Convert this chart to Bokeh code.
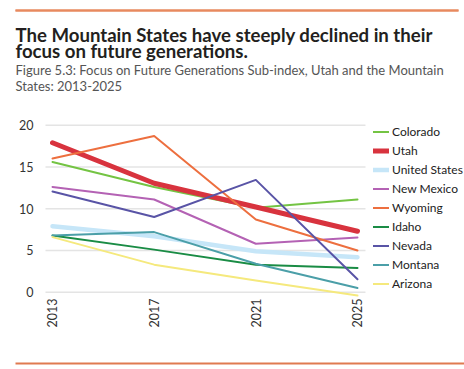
import math
from bokeh.plotting import figure
from bokeh.models import Range1d, Legend, LegendItem, FixedTicker, Label, BoxAnnotation
from bokeh.embed import file_html
from bokeh.resources import INLINE

# ---- data ----
years = [2013, 2017, 2021, 2025]
year_ticks = [2013, 2017, 2021, 2025]
y_ticks = [0, 5, 10, 15, 20]

colorado = [15.6, 12.6, 10.1, 11.1]
utah = [17.9, 13.05, 10.2, 7.3]
united_states = [7.9, 6.7, 4.9, 4.2]
new_mexico = [12.6, 11.1, 5.8, 6.55]
wyoming = [16.0, 18.7, 8.7, 5.0]
idaho = [6.8, 5.1, 3.3, 2.9]
nevada = [12.05, 9.0, 13.45, 1.55]
montana = [6.8, 7.2, 3.4, 0.5]
arizona = [6.6, 3.3, 1.4, -0.4]

series_names = ["Colorado", "Utah", "United States", "New Mexico", "Wyoming",
                "Idaho", "Nevada", "Montana", "Arizona"]
series_values = [colorado, utah, united_states, new_mexico, wyoming,
                 idaho, nevada, montana, arizona]
series_colors = ["#74c443", "#d8333e", "#c6e6f8", "#b462b4", "#ed6f3f",
                 "#1a8c45", "#5954a6", "#4b9fa8", "#f5e97d"]
series_widths = [2, 5, 4.5, 2, 2, 2, 2, 2, 2]

title_lines = ["The Mountain States have steeply declined in their",
               "focus on future generations."]
subtitle_lines = ["Figure 5.3: Focus on Future Generations Sub-index, Utah and the Mountain",
                  "States: 2013-2025"]

FONT = "Lato"
RULE = "#e8895f"
W, H = 464, 369

# canvas <-> data mapping (the frame covers the whole canvas)
X_START, X_END = 2010.954, 2029.210
Y_START, Y_END = -9.257, 34.934
PX_X = W / (X_END - X_START)
PX_Y = H / (Y_END - Y_START)


def cx(px):
    return X_START + px / PX_X


def cy(py):
    return Y_END - py / PX_Y


X_LO, X_HI = 2012.7246, 2025.3148      # extent of the plotting area / gridlines
Y_BOTTOM = -0.515                       # bottom of plotting area

p = figure(width=W, height=H, x_range=Range1d(X_START, X_END),
           y_range=Range1d(Y_START, Y_END), output_backend="svg",
           toolbar_location=None, min_border=0, title=None)
p.outline_line_color = None
p.grid.visible = False

# top rule (decoration)
p.segment(x0=[cx(15)], y0=[cy(10)], x1=[cx(458)], y1=[cy(10)],
          line_color=RULE, line_width=2)

# gridlines limited to the plotting area
p.segment(x0=[X_LO] * len(y_ticks), y0=y_ticks, x1=[X_HI] * len(y_ticks), y1=y_ticks,
          line_color="#e4e4e4", line_width=1.5)

p.xaxis.ticker = FixedTicker(ticks=year_ticks)
p.yaxis.ticker = FixedTicker(ticks=y_ticks)
p.yaxis.fixed_location = X_LO
p.xaxis.fixed_location = Y_BOTTOM
for ax in (p.xaxis, p.yaxis):
    ax.axis_line_color = None
    ax.major_tick_line_color = None
    ax.minor_tick_line_color = None
    ax.major_tick_in = 0
    ax.major_tick_out = 0
    ax.major_label_text_font = FONT
    ax.major_label_text_font_size = "12.5px"
    ax.major_label_text_color = "#333333"
p.xaxis.major_label_orientation = math.pi / 2
p.xaxis.major_label_standoff = 2
p.yaxis.major_label_standoff = 12

items = []
for name, vals, col, lw in zip(series_names, series_values, series_colors, series_widths):
    r = p.line(years, vals, line_color=col, line_width=lw,
               line_cap="round", line_join="round")
    items.append(LegendItem(label=name, renderers=[r]))

legend = Legend(items=items, location=(373, 76), border_line_color=None,
                background_fill_alpha=0, label_text_font=FONT,
                label_text_font_size="12px", label_text_color="#222222",
                label_height=19, glyph_height=19, glyph_width=16, spacing=0,
                padding=0, margin=0, label_standoff=3)
p.add_layout(legend)

# ---- header ----
for txt, yy in zip(title_lines, [34.5, 50.5]):
    p.add_layout(Label(x=15, y=yy, x_units="canvas", y_units="canvas", text=txt,
                       text_font=FONT, text_font_style="bold", text_font_size="18.6px",
                       text_color="#231f20", text_baseline="alphabetic"))
for txt, yy in zip(subtitle_lines, [69, 85]):
    p.add_layout(Label(x=15, y=yy, x_units="canvas", y_units="canvas", text=txt,
                       text_font=FONT, text_font_size="13px",
                       text_color="#555555", text_baseline="alphabetic"))

# top rule drawn after the header texts
p.add_layout(BoxAnnotation(left=15, right=458, top=9, bottom=11,
                           left_units="canvas", right_units="canvas",
                           top_units="canvas", bottom_units="canvas",
                           fill_color=RULE, fill_alpha=1, line_color=None))

# ---- footer ----
p.add_layout(BoxAnnotation(left=15, right=W, top=362, bottom=364,
                           left_units="canvas", right_units="canvas",
                           top_units="canvas", bottom_units="canvas",
                           fill_color="#e07a50", fill_alpha=1, line_color=None))

open("out.html", "w").write(file_html(p, INLINE))
